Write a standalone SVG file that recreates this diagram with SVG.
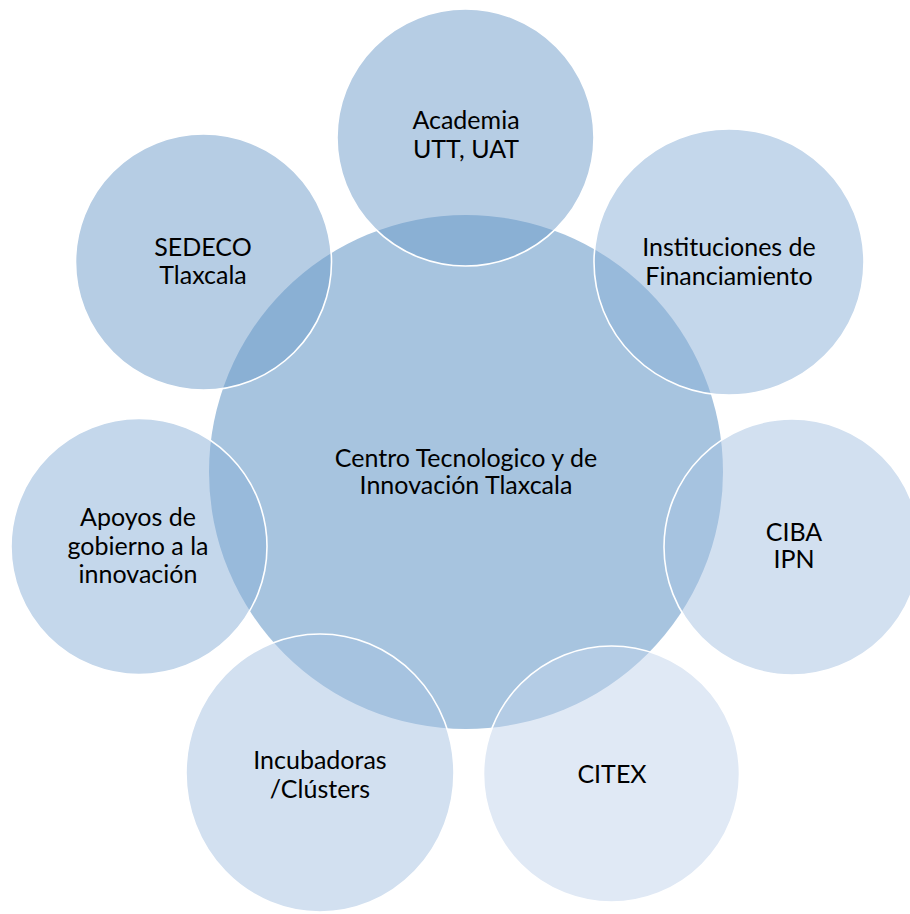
<svg xmlns="http://www.w3.org/2000/svg" width="910" height="914" viewBox="0 0 910 914">
<style>
.outer{fill-opacity:0.5;stroke:#ffffff;stroke-width:1.6}
.c1{fill:#6d9bc9}
.c2{fill:#89afd7}
.c3{fill:#a5c1e1}
.c4{fill:#c1d3eb}
.lbl{font-family:Lato,"Open Sans","Liberation Sans",sans-serif;font-size:25px;fill:#000000;text-anchor:middle}
</style>
<rect x="0" y="0" width="910" height="914" fill="#ffffff"/>
<g id="connectors"/>
<g id="center">
<circle cx="466" cy="472" r="257" fill="#a7c4df"/>
<text class="lbl" x="466" y="467">Centro Tecnologico y de</text>
<text class="lbl" x="466" y="494">Innovación Tlaxcala</text>
</g>
<g id="academia">
<circle class="outer c1" cx="465.5" cy="137.5" r="128.5"/>
<text class="lbl" x="466" y="129">Academia</text>
<text class="lbl" x="466" y="158">UTT, UAT</text>
</g>
<g id="instituciones">
<ellipse class="outer c2" cx="729" cy="262" rx="135" ry="133"/>
<text class="lbl" x="729" y="256">Instituciones de</text>
<text class="lbl" x="729" y="285">Financiamiento</text>
</g>
<g id="ciba">
<circle class="outer c3" cx="792" cy="547" r="128"/>
<text class="lbl" x="794" y="541">CIBA</text>
<text class="lbl" x="794" y="568">IPN</text>
</g>
<g id="citex">
<circle class="outer c4" cx="611.5" cy="774" r="128"/>
<text class="lbl" x="612" y="783">CITEX</text>
</g>
<g id="incubadoras">
<ellipse class="outer c3" cx="320" cy="773" rx="134" ry="139"/>
<text class="lbl" x="320" y="769">Incubadoras</text>
<text class="lbl" x="320" y="798">/Clústers</text>
</g>
<g id="apoyos">
<circle class="outer c2" cx="139" cy="546.5" r="128"/>
<text class="lbl" x="138" y="526">Apoyos de</text>
<text class="lbl" x="138" y="555">gobierno a la</text>
<text class="lbl" x="138" y="583">innovación</text>
</g>
<g id="sedeco">
<circle class="outer c1" cx="203.5" cy="262" r="128"/>
<text class="lbl" x="203" y="256">SEDECO</text>
<text class="lbl" x="203" y="284">Tlaxcala</text>
</g>
</svg>
